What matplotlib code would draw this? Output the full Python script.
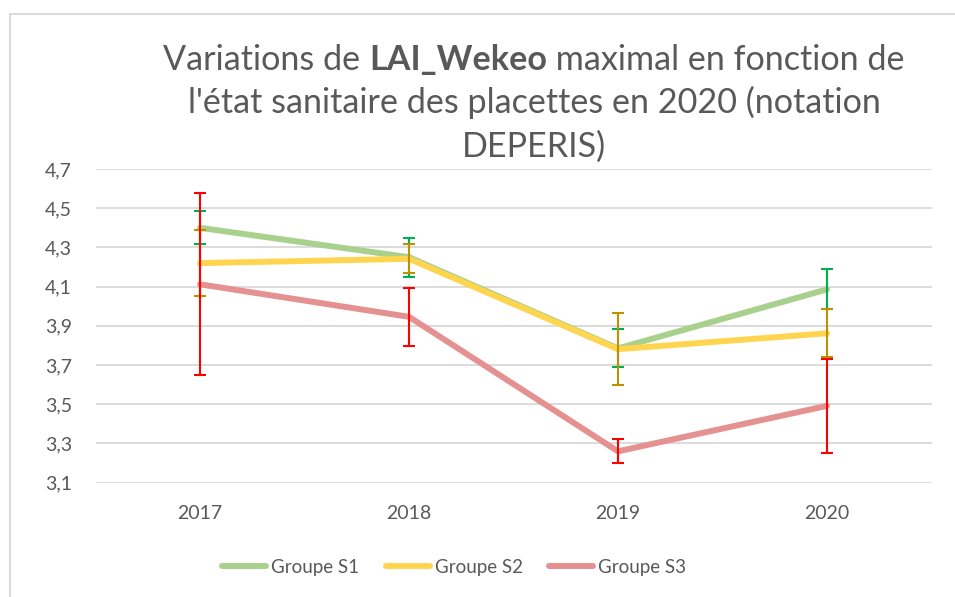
import matplotlib
matplotlib.use("Agg")
import matplotlib.pyplot as plt
from matplotlib.lines import Line2D

years = ["2017", "2018", "2019", "2020"]
groups = ["Groupe S1", "Groupe S2", "Groupe S3"]
s1 = [4.40, 4.25, 3.785, 4.086]
s1_err = [0.085, 0.100, 0.097, 0.102]
s2 = [4.22, 4.242, 3.781, 3.862]
s2_err = [0.169, 0.074, 0.183, 0.123]
s3 = [4.112, 3.946, 3.260, 3.492]
s3_err = [0.464, 0.149, 0.062, 0.239]
yticks = [3.1, 3.3, 3.5, 3.7, 3.9, 4.1, 4.3, 4.5, 4.7]
ytick_labels = ["3,1", "3,3", "3,5", "3,7", "3,9", "4,1", "4,3", "4,5", "4,7"]

FONT = "Lato"
TXT = "#595959"
GRID = "#d9d9d9"
line_colors = ["#A9D18E", "#FFD54F", "#E69191"]
err_colors = ["#00B050", "#BF9000", "#FF0000"]

W, H = 955, 597
fig = plt.figure(figsize=(W / 100, H / 100), dpi=100)
fig.patch.set_facecolor("white")

# outer frame (left and top edges visible only)
fig.add_artist(Line2D([9.5 / W, 9.5 / W], [0, 1 - 14 / H], transform=fig.transFigure,
                      color=GRID, lw=1.3))
fig.add_artist(Line2D([9.5 / W, 1], [1 - 14 / H, 1 - 14 / H], transform=fig.transFigure,
                      color=GRID, lw=1.3))

ax = fig.add_axes([95.5 / W, 1 - 482.7 / H, (931.5 - 95.5) / W, (482.7 - 169) / H])
x = list(range(len(years)))
series = [(s1, s1_err), (s2, s2_err), (s3, s3_err)]
for i, (vals, errs) in enumerate(series):
    ax.plot(x, vals, color=line_colors[i], lw=4.3, solid_capstyle="round",
            solid_joinstyle="round", zorder=3 + i)
for i, (vals, errs) in enumerate(series):
    ax.errorbar(x, vals, yerr=errs, fmt="none", ecolor=err_colors[i], elinewidth=1.5,
                capsize=4, capthick=1.5, zorder=6 + i)

ax.set_xlim(-0.5, len(years) - 0.5)
ax.set_ylim(3.1, 4.7)
ax.set_yticks(yticks)
ax.set_yticklabels(ytick_labels)
ax.set_xticks(x)
ax.set_xticklabels(years)
for s in ax.spines.values():
    s.set_visible(False)
ax.grid(axis="y", color=GRID, lw=1.3, zorder=0)
ax.set_axisbelow(True)
ax.tick_params(axis="both", length=0, labelcolor=TXT, labelsize=14)
ax.tick_params(axis="y", pad=17)
ax.tick_params(axis="x", pad=16)
for lab in ax.get_xticklabels() + ax.get_yticklabels():
    lab.set_fontfamily(FONT)

# title: three lines, first with bold part
fs = 24.6
cx = 534 / W
renderer = fig.canvas.get_renderer()
parts = [("Variations de ", "normal"), ("LAI_Wekeo", "bold"), (" maximal en fonction de", "normal")]
texts = []
for s, wgt in parts:
    t = fig.text(0, 1 - 70 / H, s, fontsize=fs, fontweight=wgt, family=FONT, color=TXT,
                 ha="left", va="baseline")
    texts.append(t)
widths = [t.get_window_extent(renderer).width for t in texts]
total = sum(widths)
xpos = cx * W - total / 2
for t, w in zip(texts, widths):
    t.set_x(xpos / W)
    xpos += w
fig.text(cx, 1 - 113 / H, "l'état sanitaire des placettes en 2020 (notation", fontsize=fs,
         family=FONT, color=TXT, ha="center", va="baseline")
fig.text(cx, 1 - 157 / H, "DEPERIS)", fontsize=fs, family=FONT, color=TXT,
         ha="center", va="baseline")

handles = [Line2D([0], [0], color=c, lw=4.3, solid_capstyle="round") for c in line_colors]
leg = fig.legend(handles, groups, loc="center", bbox_to_anchor=(454 / W, 1 - 567 / H), ncol=3,
                 frameon=False, handlelength=2.35, handletextpad=0.27, columnspacing=1.39,
                 prop={"family": FONT, "size": 13.5})
for t in leg.get_texts():
    t.set_color(TXT)

fig.savefig("out.png", dpi=100)
